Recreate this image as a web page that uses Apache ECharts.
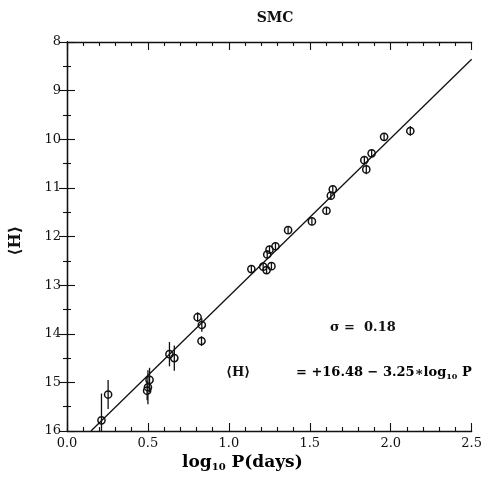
<!DOCTYPE html>
<html><head><meta charset="utf-8">
<script src="https://cdn.jsdelivr.net/npm/echarts@6/dist/echarts.min.js"></script>
<style>html,body{margin:0;padding:0;background:#fff}#c{width:485px;height:484px}</style>
</head><body><div id="c"></div>
<script>
// Observed Cepheids (log10 P, <H>, error bar half-width)
const logP   = [0.213, 0.254, 0.51, 0.50, 0.495, 0.633, 0.663, 0.807, 0.833, 0.831,
                1.139, 1.212, 1.233, 1.263, 1.237, 1.251, 1.288, 1.366, 1.513, 1.603,
                1.630, 1.642, 1.837, 1.849, 1.882, 1.959, 2.121];
const magH   = [15.78, 15.25, 14.95, 15.10, 15.17, 14.42, 14.50, 13.66, 13.82, 14.15,
                12.67, 12.62, 12.69, 12.61, 12.37, 12.27, 12.20, 11.87, 11.69, 11.47,
                11.16, 11.03, 10.43, 10.62, 10.29, 9.95, 9.83];
const magErr = [0.55, 0.30, 0.25, 0.35, 0.20, 0.25, 0.26, 0.10, 0.14, 0.10,
                0.08, 0.08, 0.08, 0.08, 0.08, 0.08, 0.08, 0.08, 0.08, 0.08,
                0.08, 0.08, 0.08, 0.10, 0.08, 0.08, 0.10];
// Fit relation <H> = a + b*log P
const fitIntercept = 16.48;
const fitSlope = -3.25;
const fitRange = [0.148, 2.5];
const xRange = [0, 2.5], yRange = [8, 16];

const pts = logP.map((v, i) => [v, magH[i], magErr[i]]);
const fitLine = fitRange.map(v => [v, fitIntercept + fitSlope * v]);

const serif = 'DejaVu Serif';
const chart = echarts.init(document.getElementById('c'), null, {renderer: 'canvas'});
const axCommon = {
  axisLine: {show: true, lineStyle: {color: '#111', width: 1.3}},
  splitLine: {show: false},
};
chart.setOption({
  backgroundColor: '#fff',
  animation: false,
  title: {text: 'SMC', left: 270, top: 6, textAlign: 'center',
          textStyle: {fontFamily: serif, fontWeight: 'bold', fontSize: 14, color: '#111'}},
  grid: {left: 67, right: 11, top: 42, bottom: 53},
  xAxis: [
    Object.assign({type: 'value', min: xRange[0], max: xRange[1], interval: 0.5, position: 'bottom',
      axisTick: {show: true, inside: true, length: 8, lineStyle: {color: '#111', width: 1.1}},
      minorTick: {show: true, splitNumber: 5, length: 4, lineStyle: {color: '#111', width: 1.1}},
      axisLabel: {show: true, margin: 6, fontFamily: serif, fontSize: 13, color: '#111',
                  formatter: v => v.toFixed(1)}}, axCommon),
    Object.assign({type: 'value', min: xRange[0], max: xRange[1], interval: 0.5, position: 'top',
      axisTick: {show: true, inside: true, length: 8, lineStyle: {color: '#111', width: 1.1}},
      minorTick: {show: true, splitNumber: 5, length: 4, lineStyle: {color: '#111', width: 1.1}},
      axisLabel: {show: false}}, axCommon)
  ],
  yAxis: [
    Object.assign({type: 'value', min: yRange[0], max: yRange[1], interval: 1, inverse: true, position: 'left',
      axisTick: {show: true, inside: true, length: 8, lineStyle: {color: '#111', width: 1.1}},
      minorTick: {show: true, splitNumber: 2, length: 4, lineStyle: {color: '#111', width: 1.1}},
      axisLabel: {show: true, margin: 6, fontFamily: serif, fontSize: 13, color: '#111'}}, axCommon),
    Object.assign({type: 'value', min: yRange[0], max: yRange[1], interval: 1, inverse: true, position: 'right',
      axisTick: {show: true, inside: true, length: 8, lineStyle: {color: '#111', width: 1.1}},
      minorTick: {show: true, splitNumber: 2, length: 4, lineStyle: {color: '#111', width: 1.1}},
      axisLabel: {show: false}}, axCommon)
  ],
  series: [
    {type: 'line', data: fitLine, symbol: 'none', xAxisIndex: 0, yAxisIndex: 0,
     lineStyle: {color: '#111', width: 1.3}, z: 2},
    {type: 'custom', data: pts, xAxisIndex: 0, yAxisIndex: 0, clip: true, z: 3,
     renderItem: function (params, api) {
       const x = api.value(0), y = api.value(1), e = api.value(2);
       const c = api.coord([x, y]);
       const t = api.coord([x, y - e]);
       const b = api.coord([x, Math.min(y + e, yRange[1])]);
       return {type: 'group', children: [
         {type: 'line', shape: {x1: c[0], y1: t[1], x2: c[0], y2: b[1]},
          style: {stroke: '#111', lineWidth: 1.3}},
         {type: 'circle', shape: {cx: c[0], cy: c[1], r: 3.6},
          style: {fill: 'rgba(0,0,0,0)', stroke: '#111', lineWidth: 1.5}}
       ]};
     }}
  ],
  graphic: [
    {type: 'text', left: 8, top: 226, rotation: Math.PI / 2,
     style: {text: '⟨H⟩', font: 'bold 16px "DejaVu Serif"', fill: '#111'}},
    {type: 'text', left: 182, top: 454,
     style: {text: '{a|log}{s|10}{a| P(days)}',
       rich: {a: {fontFamily: serif, fontWeight: 'bold', fontSize: 17, color: '#111'},
              s: {fontFamily: serif, fontWeight: 'bold', fontSize: 10, color: '#111', padding: [10, 0, 0, 0]}}}},
    {type: 'text', left: 330, top: 321,
     style: {text: 'σ =  0.18', font: 'bold 13px "DejaVu Serif"', fill: '#111'}},
    {type: 'text', left: 226, top: 366,
     style: {text: '⟨H⟩', font: 'bold 13px "DejaVu Serif"', fill: '#111'}},
    {type: 'text', left: 296, top: 366,
     style: {text: '{a|= +16.48 − 3.25∗log}{s|10}{a| P}',
       rich: {a: {fontFamily: serif, fontWeight: 'bold', fontSize: 13, color: '#111'},
              s: {fontFamily: serif, fontWeight: 'bold', fontSize: 8, color: '#111', padding: [8, 0, 0, 0]}}}}
  ]
});
</script></body></html>
